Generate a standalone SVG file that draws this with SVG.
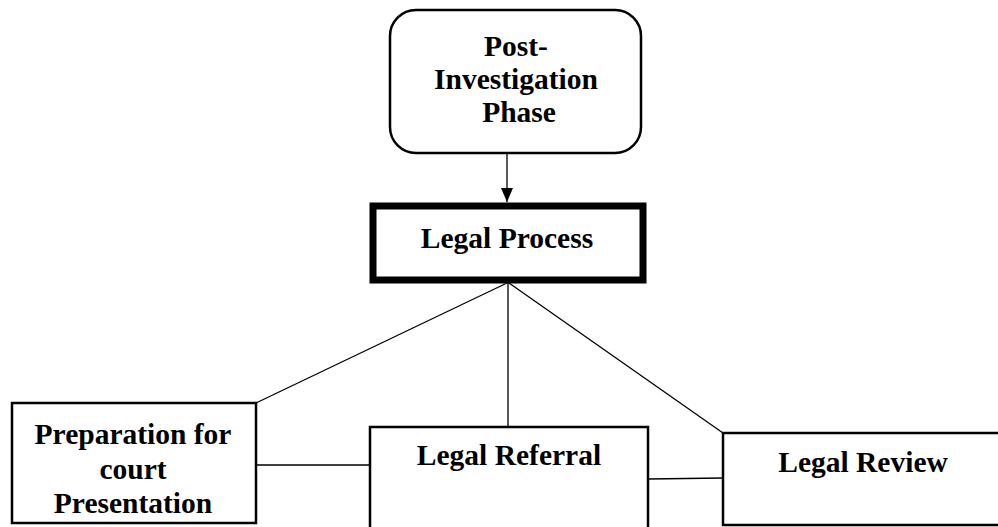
<svg xmlns="http://www.w3.org/2000/svg" width="998" height="527" viewBox="0 0 998 527">
<style>
.box{fill:#fff;stroke:#000;stroke-width:2.5}
.thick{fill:#fff;stroke:#000;stroke-width:7}
.t{font-family:"Liberation Serif","Times New Roman",serif;font-weight:bold;font-size:29.5px;fill:#000;text-anchor:middle}
.c{stroke:#000;stroke-width:1.3;fill:none}
</style>
<defs>
<marker id="ah" markerWidth="14" markerHeight="12" refX="14" refY="6" orient="auto" markerUnits="userSpaceOnUse">
<path d="M0,0 L14,6 L0,12 Z" fill="#000"/>
</marker>
</defs>
<g id="connectors">
<line class="c" x1="507" y1="154" x2="507" y2="202" marker-end="url(#ah)"/>
<line class="c" x1="507" y1="283" x2="256" y2="403"/>
<line class="c" x1="508" y1="283" x2="508" y2="427"/>
<line class="c" x1="509" y1="283" x2="723" y2="433"/>
<line class="c" x1="256" y1="465" x2="370" y2="465"/>
<line class="c" x1="648" y1="479" x2="723" y2="478"/>
</g>
<g id="post-investigation">
<rect class="box" x="390" y="10" width="251" height="143" rx="26"/>
<text class="t" x="516" y="56">Post-</text>
<text class="t" x="516" y="89">Investigation</text>
<text class="t" x="519" y="122">Phase</text>
</g>
<g id="legal-process">
<rect class="thick" x="373" y="206" width="270" height="74"/>
<text class="t" x="507" y="248">Legal Process</text>
</g>
<g id="preparation">
<rect class="box" x="12" y="403" width="244" height="120"/>
<text class="t" x="133" y="444">Preparation for</text>
<text class="t" x="133" y="479">court</text>
<text class="t" x="133" y="513">Presentation</text>
</g>
<g id="legal-referral">
<rect class="box" x="370" y="427" width="278" height="110"/>
<text class="t" x="509" y="465">Legal Referral</text>
</g>
<g id="legal-review">
<rect class="box" x="723" y="433" width="290" height="92"/>
<text class="t" x="863" y="472">Legal Review</text>
</g>
</svg>
